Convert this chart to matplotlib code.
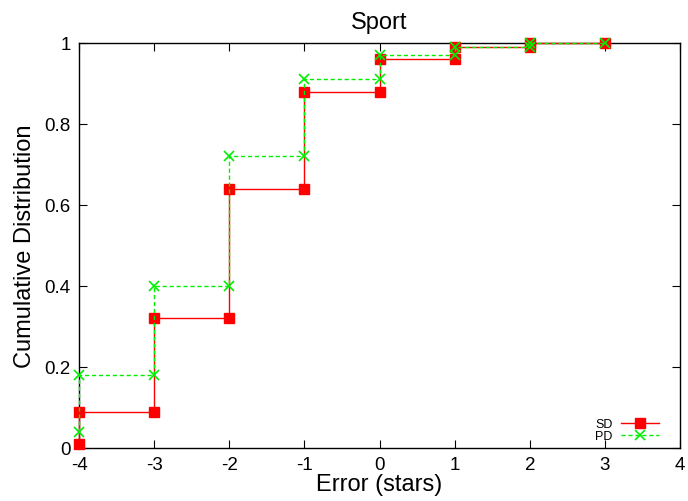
import matplotlib.pyplot as plt
from matplotlib.ticker import FormatStrFormatter

plt.rcParams['font.family'] = ['Liberation Sans', 'DejaVu Sans']
plt.rcParams['axes.unicode_minus'] = False

# step vertices of the two cumulative distributions
sd_x = [-4, -4, -3, -3, -2, -2, -1, -1, 0, 0, 1, 1, 2, 2, 3]
sd_y = [0.01, 0.09, 0.09, 0.32, 0.32, 0.64, 0.64, 0.88, 0.88, 0.96, 0.96, 0.99, 0.99, 1.0, 1.0]
pd_x = [-4, -4, -3, -3, -2, -2, -1, -1, 0, 0, 1, 1, 2, 2, 3]
pd_y = [0.04, 0.18, 0.18, 0.40, 0.40, 0.72, 0.72, 0.91, 0.91, 0.97, 0.97, 0.99, 0.99, 1.0, 1.0]

fig = plt.figure(figsize=(6.88, 5.02), dpi=100)
ax = fig.add_axes([79/688, 1 - 449/502, 601/688, 405/502])

ax.plot(sd_x, sd_y, color='red', lw=1, marker='s', ms=7, mec='red',
        clip_on=False, zorder=3, label='SD')
ax.plot(pd_x, pd_y, color='#00ee00', lw=1, ls=(0, (3, 2)), marker='x', ms=7,
        mew=1.2, clip_on=False, zorder=4, label='PD')

ax.set_xlim(-4, 4)
ax.set_ylim(0, 1)
ax.set_xticks(range(-4, 5))
ax.set_yticks([0, 0.2, 0.4, 0.6, 0.8, 1.0])
ax.yaxis.set_major_formatter(FormatStrFormatter('%g'))
ax.tick_params(direction='in', top=True, right=True, length=6, labelsize=13.5, pad=6)
for s in ax.spines.values():
    s.set_linewidth(1)
    s.set_zorder(2)

ax.set_xlabel('Error (stars)', fontsize=17, labelpad=0)
ax.set_ylabel('Cumulative Distribution', fontsize=17, labelpad=6)
ax.set_title('Sport', fontsize=17, pad=11)

ax.legend(loc='lower right', frameon=False, markerfirst=False, fontsize=9,
          handlelength=3.0, handleheight=0.5, handletextpad=0.7, labelspacing=0.0,
          borderaxespad=0.1, bbox_to_anchor=(0.975, 0.0))

fig.savefig('out.png', dpi=100)
